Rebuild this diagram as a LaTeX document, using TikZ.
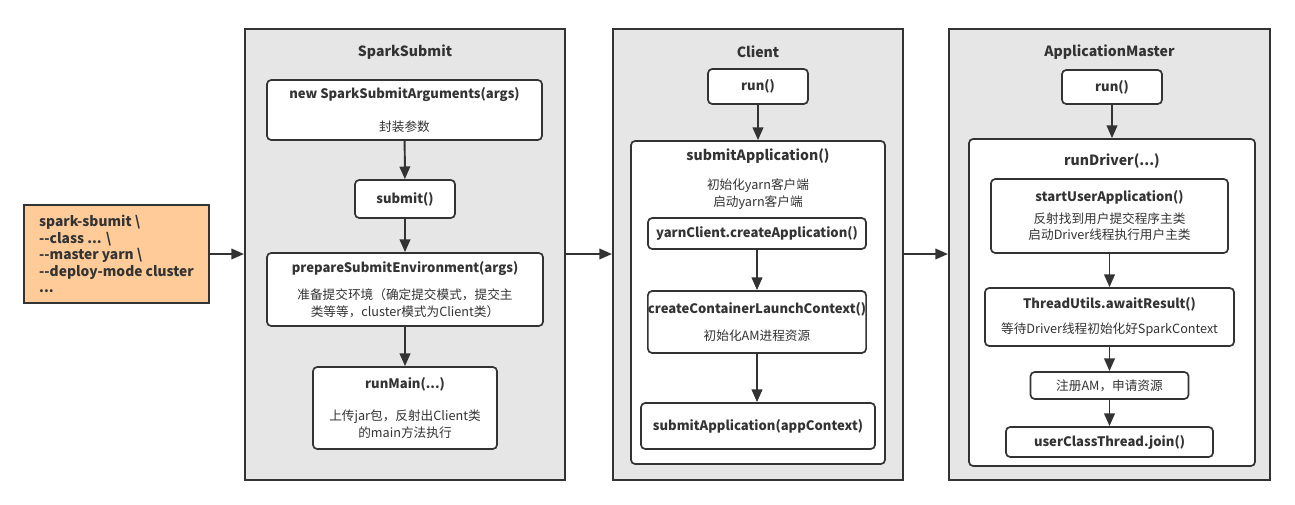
\documentclass[tikz,border=0pt]{standalone}
\usepackage{fontspec}
\setmainfont{Noto Sans CJK SC}
\usetikzlibrary{positioning,arrows.meta}
\definecolor{lineGray}{HTML}{333333}
\definecolor{groupGray}{HTML}{E6E6E6}
\definecolor{cmdOrange}{HTML}{FFCC99}
\tikzstyle{ptr}   = [draw=lineGray, line width=1.4pt, -{Triangle[length=9pt,width=7.5pt]}]
\tikzstyle{group} = [rectangle, draw=lineGray, fill=groupGray, line width=1.4pt, inner sep=0pt]
\tikzstyle{call}  = [rectangle, rounded corners=3pt, draw=lineGray, fill=white, line width=1.2pt, align=center, inner sep=0pt, text=lineGray, font=\fontsize{9}{12}\selectfont]
\tikzstyle{title} = [text=lineGray, font=\fontsize{10}{12}\selectfont\bfseries]
\newcommand{\fname}[1]{{\fontsize{9.3}{12}\selectfont\bfseries #1}}

\begin{document}
\begin{tikzpicture}[x=0.025cm, y=-0.025cm]
    \useasboundingbox (0,0) rectangle (1295,505);

    % command line
    \node[rectangle, draw=lineGray, fill=cmdOrange, line width=1.4pt, minimum width=4.625cm, minimum height=2.45cm,
          align=left, text=lineGray, font=\fontsize{9.8}{11.7}\selectfont\bfseries] (cmd) at (116.5,254)
        {spark-sbumit \textbackslash\\-{}-class ... \textbackslash\\-{}-master yarn \textbackslash\\-{}-deploy-mode cluster\\...};

    % SparkSubmit
    \node[group, minimum width=8cm, minimum height=11.275cm] (ss) at (405,254.5) {};
    \node[title] (ssTitle) at (405,52) {SparkSubmit};
    \node[call, minimum width=6.875cm, minimum height=1.5cm] (ssArgs) at (404.5,110)
        {\fname{new SparkSubmitArguments(args)}\\[11pt]封装参数};
    \node[call, minimum width=2.5cm, minimum height=0.95cm] (ssSubmit) at (405,199) {\fname{submit()}};
    \node[call, minimum width=6.9cm, minimum height=1.825cm] (ssPrepare) at (405,289.5)
        {\fname{prepareSubmitEnvironment(args)}\\[7pt]准备提交环境（确定提交模式，提交主\\类等等，cluster模式为Client类）};
    \node[call, minimum width=4.6cm, minimum height=2.05cm] (ssRunMain) at (405,408)
        {\fname{runMain(...)}\\[11pt]上传jar包，反射出Client类\\的main方法执行};

    \draw[ptr] (ssArgs) -- (ssSubmit);
    \draw[ptr] (ssSubmit) -- (ssPrepare);
    \draw[ptr] (ssPrepare) -- (ssRunMain);

    % Client
    \node[group, minimum width=7.25cm, minimum height=11.275cm] (cl) at (758,254.5) {};
    \node[title] (clTitle) at (758,52) {Client};
    \node[call, minimum width=2.5cm, minimum height=0.875cm] (clRun) at (758,86.5) {\fname{run()}};
    \node[call, minimum width=6.35cm, minimum height=8.075cm] (clSubmit) at (758,302.5) {};
    \node[title] (clSubmitTitle) at (758,156) {submitApplication()};
    \node[text=lineGray, align=center, font=\fontsize{9}{12}\selectfont] (clSubmitText) at (758,194)
        {初始化yarn客户端\\启动yarn客户端};
    \node[call, minimum width=5.45cm, minimum height=0.775cm] (clCreateApp) at (757,233.5)
        {\fname{yarnClient.createApplication()}};
    \node[call, minimum width=5.45cm, minimum height=1.55cm] (clLaunch) at (757,322)
        {\fname{createContainerLaunchContext()}\\[7pt]初始化AM进程资源};
    \node[call, minimum width=5.85cm, minimum height=1.15cm] (clSubmitCtx) at (758,426)
        {\fname{submitApplication(appContext)}};

    \draw[ptr] (clRun) -- (clSubmit.north -| clRun);
    \draw[ptr] (clCreateApp) -- (clLaunch);
    \draw[ptr] (clLaunch.south) -- (clSubmitCtx.north -| clLaunch.south);

    % ApplicationMaster
    \node[group, minimum width=8.025cm, minimum height=11.275cm] (am) at (1109.5,254.5) {};
    \node[title] (amTitle) at (1109.5,52) {ApplicationMaster};
    \node[call, minimum width=2.5cm, minimum height=0.85cm] (amRun) at (1112,87) {\fname{run()}};
    \node[call, minimum width=7.15cm, minimum height=8.175cm] (amDriver) at (1112,302.5) {};
    \node[title] (amDriverTitle) at (1112,161) {runDriver(...)};
    \node[call, minimum width=5.925cm, minimum height=1.85cm] (amStart) at (1109.5,216)
        {\fname{startUserApplication()}\\[3pt]反射找到用户提交程序主类\\启动Driver线程执行用户主类};
    \node[call, minimum width=6.225cm, minimum height=1.45cm] (amAwait) at (1109.5,317)
        {\fname{ThreadUtils.awaitResult()}\\[6pt]等待Driver线程初始化好SparkContext};
    \node[call, minimum width=3.95cm, minimum height=0.675cm] (amRegister) at (1109.5,385.5)
        {注册AM，申请资源};
    \node[call, minimum width=5.175cm, minimum height=0.75cm] (amJoin) at (1109.5,442)
        {\fname{userClassThread.join()}};

    \draw[ptr] (amRun) -- (amDriver.north -| amRun);
    \draw[ptr] (amStart) -- (amAwait);
    \draw[ptr] (amAwait) -- (amRegister);
    \draw[ptr] (amRegister) -- (amJoin);

    % between groups
    \draw[ptr] (cmd.east) -- (cmd.east -| ss.west);
    \draw[ptr] (ss.east |- cmd.east) -- (cmd.east -| cl.west);
    \draw[ptr] (cl.east |- cmd.east) -- (cmd.east -| am.west);
\end{tikzpicture}
\end{document}
